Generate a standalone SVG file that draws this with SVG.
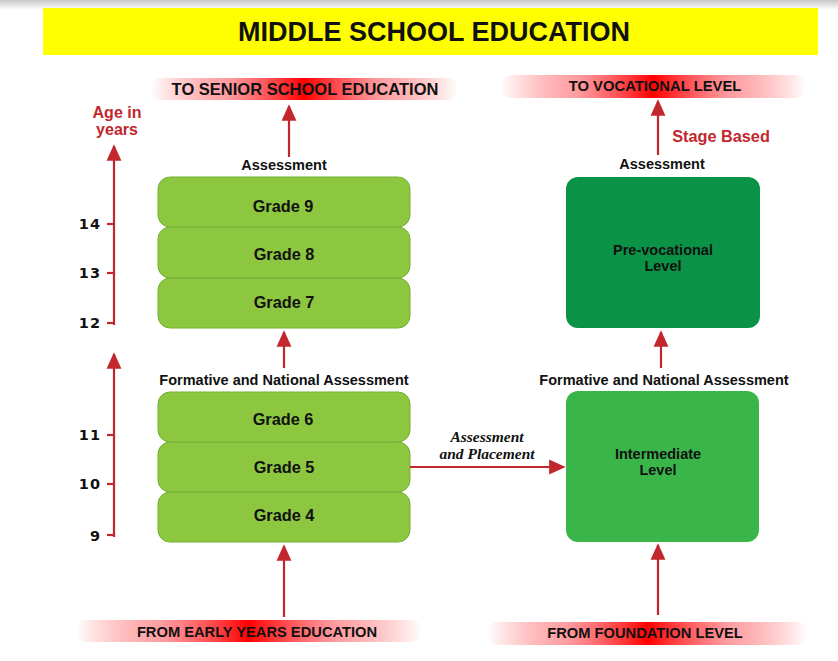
<svg xmlns="http://www.w3.org/2000/svg" width="838" height="661" viewBox="0 0 838 661">
<style>
.t{font-family:"Liberation Sans",Arial,sans-serif;font-weight:bold;fill:#111;text-anchor:middle}
.grade{font-size:16.3px}
.box{font-size:14.5px}
.lbl{font-size:14.5px}
.red{fill:#c1272d}
.tick{font-family:"DejaVu Sans",sans-serif;font-weight:bold;font-size:14.5px;fill:#111;text-anchor:end;letter-spacing:1px}
.ln{stroke:#c1272d;stroke-width:2.2;fill:none}
.gb{fill:#8dc63f;stroke:#72b136;stroke-width:1}
.it{font-family:"Liberation Serif",serif;font-weight:bold;font-style:italic;font-size:15.5px;fill:#111;text-anchor:middle}
</style>
<defs>
<linearGradient id="top" x1="0" y1="0" x2="0" y2="1"><stop offset="0" stop-color="#c8c8c8"/><stop offset="1" stop-color="#fff"/></linearGradient>
<linearGradient id="rb" x1="0" y1="0" x2="1" y2="0">
<stop offset="0" stop-color="#ff0000" stop-opacity="0"/>
<stop offset="0.25" stop-color="#ff4d55" stop-opacity="0.55"/>
<stop offset="0.5" stop-color="#ff0000" stop-opacity="1"/>
<stop offset="0.75" stop-color="#ff4d55" stop-opacity="0.55"/>
<stop offset="1" stop-color="#ff0000" stop-opacity="0"/>
</linearGradient>
<marker id="ah" viewBox="0 0 10 10" refX="9" refY="5" markerWidth="7.5" markerHeight="7.5" orient="auto" markerUnits="strokeWidth">
<path d="M0,0.5 L10,5 L0,9.5 z" fill="#c1272d"/>
</marker>
</defs>
<rect width="838" height="661" fill="#fff"/>
<rect width="838" height="10" fill="url(#top)"/>
<g id="title">
<rect x="43" y="8" width="775" height="47" fill="#ffff00"/>
<text class="t" x="434" y="41" font-size="27">MIDDLE SCHOOL EDUCATION</text>
</g>
<g id="to-senior">
<rect x="150" y="78" width="308" height="22" rx="11" fill="url(#rb)"/>
<text class="t" font-size="16.5" x="305" y="95">TO SENIOR SCHOOL EDUCATION</text>
</g>
<g id="to-vocational">
<rect x="500" y="75" width="306" height="23" rx="11" fill="url(#rb)"/>
<text class="t" font-size="14.8" x="655" y="91">TO VOCATIONAL LEVEL</text>
</g>
<g id="from-early">
<rect x="75" y="620" width="347" height="22" rx="11" fill="url(#rb)"/>
<text class="t" font-size="14.7" x="257" y="637">FROM EARLY YEARS EDUCATION</text>
</g>
<g id="from-foundation">
<rect x="487" y="622" width="321" height="23" rx="11" fill="url(#rb)"/>
<text class="t" font-size="14.7" x="645" y="638">FROM FOUNDATION LEVEL</text>
</g>
<g id="age-axis">
<text class="t red" font-size="16" x="117" y="118">Age in</text>
<text class="t red" font-size="16" x="117" y="135">years</text>
<line class="ln" x1="114" y1="325" x2="114" y2="146" marker-end="url(#ah)"/>
<line class="ln" x1="114" y1="537" x2="114" y2="354" marker-end="url(#ah)"/>
<g class="ln" stroke-width="1.6">
<line x1="107" y1="224" x2="114" y2="224"/>
<line x1="107" y1="273" x2="114" y2="273"/>
<line x1="107" y1="323" x2="114" y2="323"/>
<line x1="107" y1="435" x2="114" y2="435"/>
<line x1="107" y1="484" x2="114" y2="484"/>
<line x1="107" y1="535" x2="114" y2="535"/>
</g>
<text class="tick" x="101" y="229">14</text>
<text class="tick" x="101" y="278">13</text>
<text class="tick" x="101" y="328">12</text>
<text class="tick" x="101" y="440">11</text>
<text class="tick" x="101" y="489">10</text>
<text class="tick" x="101" y="541">9</text>
</g>
<g id="grades-upper">
<rect class="gb" x="158" y="278" width="252" height="50" rx="12"/>
<rect class="gb" x="158" y="227" width="252" height="51" rx="12"/>
<rect class="gb" x="158" y="177" width="252" height="50" rx="12"/>
<text class="t grade" x="283" y="212">Grade 9</text>
<text class="t grade" x="284" y="260">Grade 8</text>
<text class="t grade" x="284" y="308">Grade 7</text>
</g>
<g id="grades-lower">
<rect class="gb" x="158" y="492" width="252" height="50" rx="12"/>
<rect class="gb" x="158" y="442" width="252" height="50" rx="12"/>
<rect class="gb" x="158" y="392" width="252" height="50" rx="12"/>
<text class="t grade" x="283" y="425">Grade 6</text>
<text class="t grade" x="284" y="473">Grade 5</text>
<text class="t grade" x="284" y="521">Grade 4</text>
</g>
<g id="pre-vocational">
<rect x="566" y="177" width="194" height="151" rx="12" fill="#0a9346"/>
<text class="t box" x="663" y="255">Pre-vocational</text>
<text class="t box" x="663" y="271">Level</text>
</g>
<g id="intermediate">
<rect x="566" y="391" width="193" height="151" rx="12" fill="#3ab54a"/>
<text class="t box" x="658" y="459">Intermediate</text>
<text class="t box" x="658" y="475">Level</text>
</g>
<g id="labels">
<text class="t lbl" x="284" y="170">Assessment</text>
<text class="t lbl" x="662" y="169">Assessment</text>
<text class="t red" font-size="16.3" x="721" y="142">Stage Based</text>
<text class="t lbl" x="284" y="385">Formative and National Assessment</text>
<text class="t lbl" x="664" y="385">Formative and National Assessment</text>
<text class="it" x="487" y="442">Assessment</text>
<text class="it" x="487" y="459">and Placement</text>
</g>
<g id="connectors">
<line class="ln" x1="289" y1="157" x2="289" y2="106" marker-end="url(#ah)"/>
<line class="ln" x1="658" y1="155" x2="658" y2="101" marker-end="url(#ah)"/>
<line class="ln" x1="284" y1="368" x2="284" y2="332" marker-end="url(#ah)"/>
<line class="ln" x1="661" y1="368" x2="661" y2="332" marker-end="url(#ah)"/>
<line class="ln" x1="284" y1="617" x2="284" y2="546" marker-end="url(#ah)"/>
<line class="ln" x1="658" y1="615" x2="658" y2="545" marker-end="url(#ah)"/>
<line class="ln" x1="410" y1="467" x2="564" y2="467" marker-end="url(#ah)"/>
</g>
</svg>
